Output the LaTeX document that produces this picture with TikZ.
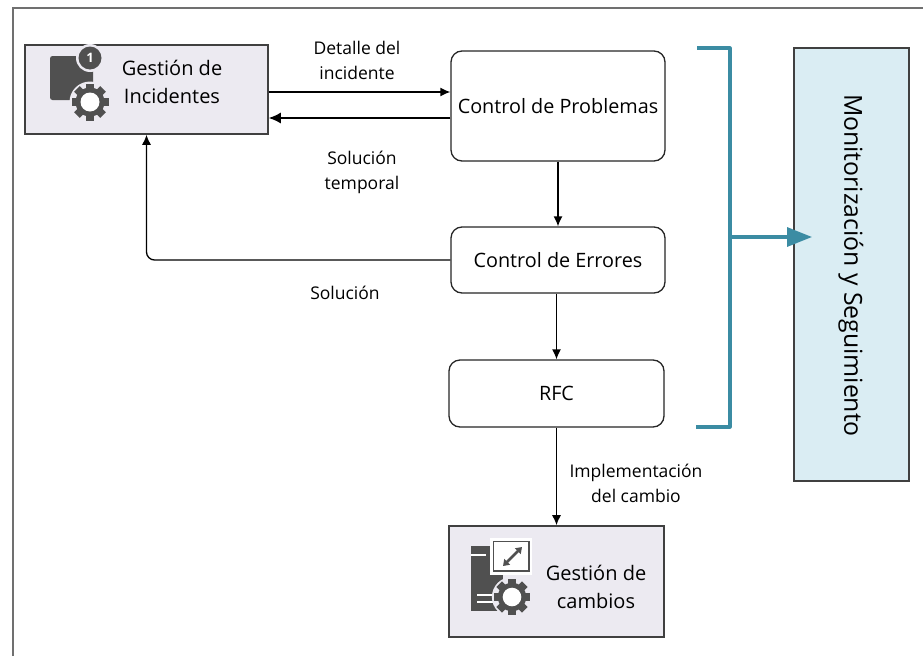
\documentclass[tikz,border=0pt]{standalone}
\usepackage{fontspec}
\setmainfont{Open Sans}
\usetikzlibrary{arrows.meta}
\definecolor{teal}{HTML}{3B8CA3}
\definecolor{lav}{HTML}{ECEAF1}
\definecolor{pale}{HTML}{DAEDF3}
\definecolor{ico}{HTML}{505050}
\definecolor{frm}{HTML}{707070}
\tikzset{
  x=1pt,y=-1pt,
  procbox/.style={draw=black!85,line width=1.3pt,rounded corners=11pt,fill=white,minimum width=#1,inner sep=0pt,font=\fontsize{19.8}{24}\selectfont},
  lavbox/.style={draw=black!75,line width=1.6pt,fill=lav,inner sep=0pt},
  boxtext/.style={align=center,font=\fontsize{20}{28}\selectfont,inner sep=0pt},
  lbl/.style={align=center,font=\fontsize{17.5}{25}\selectfont,inner sep=0pt},
  conn/.style={draw=black,line width=1.3pt,-{Latex[length=10pt,width=9pt]}},
  brk/.style={draw=teal,line width=3.2pt},
}
\newcommand{\gearicon}[3]{% x,y,scale
  \begin{scope}[shift={(#1,#2)},scale=#3]
    \fill[lav] (0,0) circle (20.5);
    \foreach \a in {0,45,...,315}{
      \fill[ico,rotate=\a] (-4,-18.5) rectangle (4,-9);
    }
    \fill[ico] (0,0) circle (14.5);
    \fill[white] (0,0) circle (9.5);
  \end{scope}}
\begin{document}
\begin{tikzpicture}
\useasboundingbox (0,0) rectangle (923,656);
\draw[frm,line width=2pt] (12.5,656) -- (12.5,7.5) -- (923,7.5);

\node[lavbox,minimum width=243pt,minimum height=89pt] (gi) at (146.5,89.5) {};
\node[procbox=214pt,minimum height=110pt] (cp) at (558,106) {Control de Problemas};
\node[procbox=214pt,minimum height=66pt] (ce) at (558,260) {Control de Errores};
\node[procbox=215pt,minimum height=67pt] (rfc) at (556.5,393.5) {RFC};
\node[lavbox,minimum width=215pt,minimum height=111pt] (gc) at (556.5,581.5) {};
\node[draw=black!75,line width=1.4pt,fill=pale,minimum width=115pt,minimum height=433pt,inner sep=0pt] (mon) at (851.5,264.5) {};
\node[rotate=-90,inner sep=0pt,font=\fontsize{24.8}{30}\selectfont] (montxt) at (851,265.5) {Monitorización y Seguimiento};

\node[boxtext] (gitxt) at (172,82) {Gestión de\\Incidentes};
\node[boxtext] (gctxt) at (596,587) {Gestión de\\cambios};

% icon: incidents
\fill[ico,rounded corners=2.5pt] (50,56) rectangle (93,100);
\fill[lav] (90,58) circle (14);
\fill[ico] (90,58) circle (11.5);
\node[text=white,font=\bfseries\fontsize{13}{13}\selectfont,inner sep=0pt] (badge) at (90,58) {1};
\gearicon{90}{102}{1}

% icon: changes
\fill[ico] (471,546) rectangle (503,611);
\draw[white,line width=1.8pt] (471,555) -- (486,555);
\draw[white,line width=1.8pt] (477,595) -- (500,595);
\draw[white,line width=1.8pt] (477,602) -- (500,602);
\gearicon{512}{597}{0.98}
\fill[white] (490,538) rectangle (532,575);
\draw[ico,line width=1.8pt] (493.5,541.5) rectangle (529,571);
\draw[ico,line width=2.6pt,{Stealth[length=6pt,width=8pt,inset=0pt]}-{Stealth[length=6pt,width=8pt,inset=0pt]}] (503,566) -- (522,547);

% connectors
\coordinate (g1) at ([yshift=-2.5pt]gi.east);
\coordinate (g2) at ([yshift=-28.5pt]gi.east);
\draw[conn] (g1) -- (g1 -| cp.west);
\draw[draw=black,line width=1.3pt,-{Latex[length=12pt,width=11pt]}] (g2 -| cp.west) -- (g2);
\draw[conn] (cp.south) -- (ce.north);
\draw[conn,rounded corners=8pt] (ce.west) -- (gi.south |- ce.west) -- (gi.south);
\draw[conn] (ce.south -| rfc.north) -- (rfc.north);
\draw[conn] (rfc.south) -- (gc.north);

% bracket
\coordinate (b1) at (697,48);
\coordinate (b2) at (730,48);
\coordinate (b3) at (730,427);
\coordinate (b4) at (696,427);
\coordinate (b5) at (730,237);
\draw[brk,line join=round] (b1) -- (b2) -- (b3) -- (b4);
\draw[brk,-{Triangle[length=25pt,width=19pt]}] (b5) -- (812,237);

% labels
\node[lbl] (l1) at (357,60.5) {Detalle del\\incidente};
\node[lbl] (l2) at (362,172) {Solución\\temporal};
\node[lbl] (l3) at (345,293) {Solución};
\node[lbl] (l4) at (636,483.5) {Implementación\\del cambio};
\end{tikzpicture}
\end{document}
